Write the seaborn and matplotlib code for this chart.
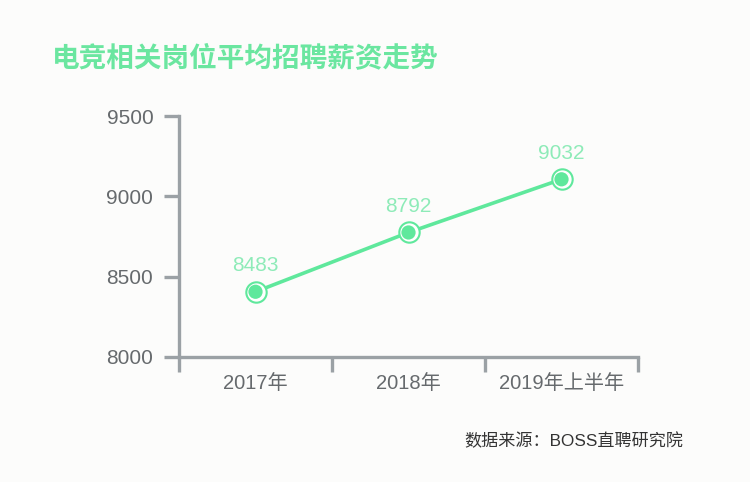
import matplotlib
matplotlib.use("Agg")
import matplotlib.pyplot as plt
import seaborn as sns
import pandas as pd

categories = ["2017年", "2018年", "2019年上半年"]
salary_plotted = [8406, 8775, 9106]      # positions as drawn in the reference
salary_labels = ["8483", "8792", "9032"]  # value labels as printed
y_ticks = [8000, 8500, 9000, 9500]

title = "电竞相关岗位平均招聘薪资走势"
source = "数据来源：BOSS直聘研究院"

sns.set_theme(style="white")
plt.rcParams["font.family"] = ["Liberation Sans", "Noto Sans CJK SC", "DejaVu Sans"]

BG = "#fcfcfb"
GREEN = "#5fe89c"
LABEL_GREEN = "#8eebb8"
AXIS = "#9ba1a5"
TICK_TXT = "#666a6d"

df = pd.DataFrame({"x": range(len(categories)), "salary": salary_plotted})

fig = plt.figure(figsize=(7.5, 4.82), dpi=100, facecolor=BG)
ax = fig.add_axes([179 / 750, 1 - 357 / 482, (638 - 179) / 750, (357 - 116) / 482])
ax.set_facecolor(BG)

sns.lineplot(data=df, x="x", y="salary", ax=ax, color=GREEN, linewidth=2.6, zorder=2)
sns.scatterplot(data=df, x="x", y="salary", ax=ax, s=215, facecolor="white",
                edgecolor=GREEN, linewidth=1.5, zorder=3)
sns.scatterplot(data=df, x="x", y="salary", ax=ax, s=105, color=GREEN,
                edgecolor="none", zorder=4)

for xi, yi, lab in zip(df["x"], df["salary"], salary_labels):
    ax.annotate(lab, (xi, yi), xytext=(0, 12), textcoords="offset points",
                ha="center", va="bottom", color=LABEL_GREEN, fontsize=15)

ax.set_xlim(-0.5, len(categories) - 0.5)
ax.set_ylim(y_ticks[0], y_ticks[-1])
ax.set_yticks(y_ticks)
ax.set_yticklabels([str(t) for t in y_ticks])
ax.set_xticks([i - 0.5 for i in range(len(categories) + 1)])
ax.set_xticklabels([])
ax.set_xticks(list(range(len(categories))), minor=True)
ax.set_xticklabels(categories, minor=True)
ax.set_xlabel("")
ax.set_ylabel("")

for s in ["top", "right"]:
    ax.spines[s].set_visible(False)
for s in ["left", "bottom"]:
    ax.spines[s].set_color(AXIS)
    ax.spines[s].set_linewidth(2.4)

ax.tick_params(axis="y", which="major", direction="out", length=10.5, width=2.4,
               color=AXIS, labelcolor=TICK_TXT, labelsize=15, pad=8, left=True)
ax.tick_params(axis="x", which="major", direction="out", length=10.5, width=2.4,
               color=AXIS, bottom=True)
ax.tick_params(axis="x", which="minor", length=0, labelcolor=TICK_TXT,
               labelsize=14.5, pad=12, bottom=True)

fig.text(52 / 750, 1 - 58 / 482, title, color="#6be6a0", fontsize=19.9,
         fontweight="bold", ha="left", va="center",
         family=["Noto Sans CJK SC", "DejaVu Sans"])
fig.text(683 / 750, 1 - 441 / 482, source, color="#333333", fontsize=12.3,
         ha="right", va="center")

fig.savefig("out.png", dpi=100, facecolor=BG)
